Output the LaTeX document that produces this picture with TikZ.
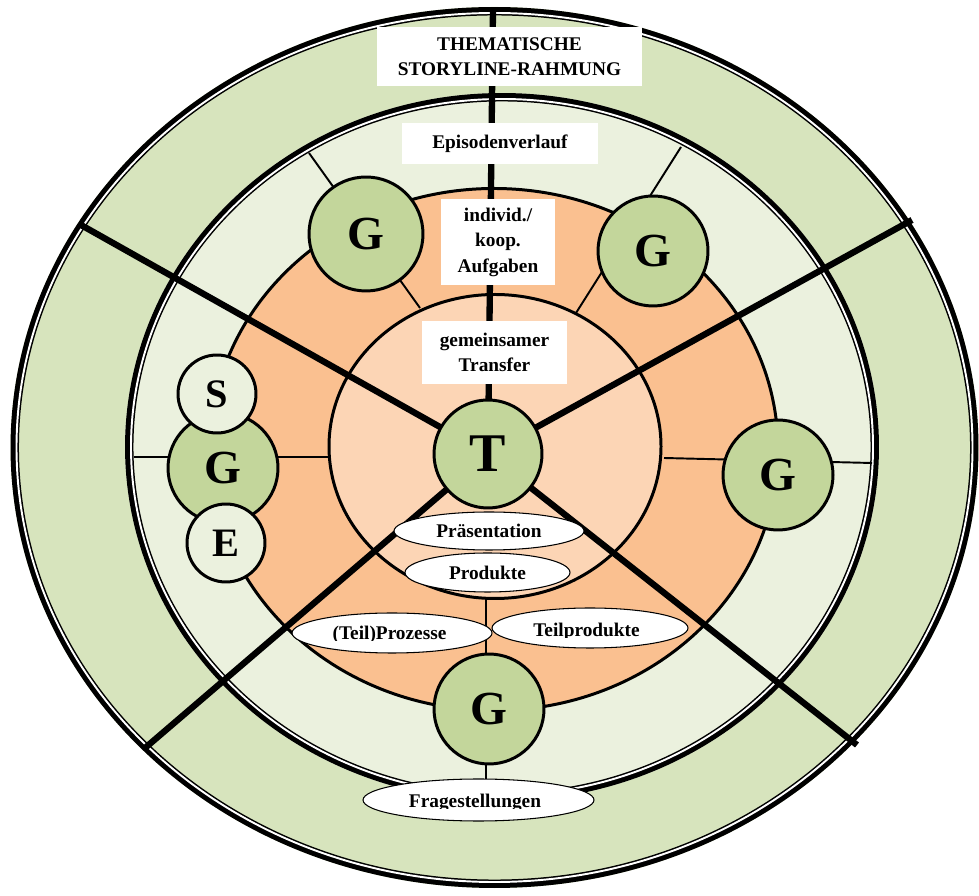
\documentclass[tikz,border=0pt]{standalone}
\usepackage{fontspec}
\setmainfont{Liberation Serif}
\usetikzlibrary{shapes.geometric}

\definecolor{ringouter}{HTML}{D7E4BD}
\definecolor{ringlight}{HTML}{EBF1DE}
\definecolor{ringorange}{HTML}{FAC090}
\definecolor{ringpeach}{HTML}{FCD5B5}
\definecolor{groupfill}{HTML}{C3D69B}

\def\ringedge(#1)(#2:#3){\draw[line width=4.8pt] (#1) ellipse [x radius=#2-4.25, y radius=#3-4.25];
	\draw[white, line width=1.1pt] (#1) ellipse [x radius=#2-6, y radius=#3-6];}

\tikzset{
	ringline/.style={line width=1.7pt},
	spoke/.style={line width=3.6pt},
	divider/.style={line width=1.1pt},
	labelbox/.style={rectangle, fill=white, inner sep=0pt, align=center, font=\fontsize{11}{14.5}\selectfont\bfseries},
	labeloval/.style={ellipse, draw, line width=0.6pt, fill=white, inner sep=0pt, font=\fontsize{11}{14.5}\selectfont\bfseries},
	ovaltext/.style={anchor=base, inner sep=0pt, font=\fontsize{11}{14.5}\selectfont\bfseries},
	groupnode/.style={circle, draw, line width=1.7pt, fill=groupfill, inner sep=0pt, minimum size=2.2cm, font=\fontsize{27}{27}\selectfont\bfseries},
	teachernode/.style={groupnode, minimum size=2.16cm, font=\fontsize{31}{31}\selectfont\bfseries},
	rolenode/.style={groupnode, fill=ringlight, minimum size=1.56cm, font=\fontsize{23}{23}\selectfont\bfseries},
}

\begin{document}
\begin{tikzpicture}[x=0.02cm, y=0.02cm]
	%%%%% START %%%%%
	\useasboundingbox (0,0) rectangle (979,895);
	
	\fill[ringouter] (494.5,447.5) ellipse [x radius=484, y radius=440.5];
	\ringedge(494.5,447.5)(484:440.5)
	\fill[ringlight] (502,448) ellipse [x radius=377, y radius=354];
	\ringedge(502,448)(377:354)
	\draw[ringline, fill=ringorange] (494,445.5) ellipse [x radius=284, y radius=261];
	\draw[ringline, fill=ringpeach] (495,448.5) ellipse [x radius=166, y radius=152];
	
	\coordinate (dv-ul-out) at (309,742);
	\coordinate (dv-ul-in) at (420,587);
	\coordinate (dv-ur-out) at (681,748);
	\coordinate (dv-ur-in) at (576,582);
	\coordinate (dv-r-in) at (664,437);
	\coordinate (dv-r-out) at (872,432);
	\coordinate (dv-l-out) at (134,438);
	\coordinate (dv-l-in) at (328,438);
	\coordinate (dv-b-in) at (486,296);
	\coordinate (dv-b-out) at (486,100);
	\draw[divider] (dv-ul-out) -- (dv-ul-in);
	\draw[divider] (dv-ur-out) -- (dv-ur-in);
	\draw[divider] (dv-r-in) -- (dv-r-out);
	\draw[divider] (dv-l-out) -- (dv-l-in);
	\draw[divider] (dv-b-in) -- (dv-b-out);
	
	\coordinate (hub) at (488,441);
	\coordinate (sp-top) at (493,887);
	\coordinate (sp-ul) at (81,670);
	\coordinate (sp-ur) at (912,675);
	\coordinate (sp-ll) at (145,147);
	\coordinate (sp-lr) at (857,150);
	\draw[spoke] (hub) -- (sp-top);
	\draw[spoke] (hub) -- (sp-ul);
	\draw[spoke] (hub) -- (sp-ur);
	\draw[spoke] (hub) -- (sp-ll);
	\draw[spoke] (hub) -- (sp-lr);
	
	\node[labelbox, minimum width=5.3cm, minimum height=1.18cm] (frame) at (509.5,838.5) {THEMATISCHE\\STORYLINE-RAHMUNG};
	\node[labelbox, minimum width=3.92cm, minimum height=0.82cm] (episode) at (500,751.5) {Episodenverlauf};
	\node[labelbox, minimum width=2.28cm, minimum height=1.72cm] (tasks) at (498,653) {individ./\\koop.\\Aufgaben};
	\node[labelbox, minimum width=2.9cm, minimum height=1.26cm] (transfer) at (494.5,542.5) {gemeinsamer\\Transfer};
	
	\node[teachernode] (t) at (hub) {T};
	\node[groupnode, minimum size=2.28cm] (gul) at (366,661) {G};
	\node[groupnode] (gur) at (653,644) {G};
	\node[groupnode] (gr) at (778,420) {G};
	\node[groupnode] (gb) at (489,186) {G};
	\node[groupnode] (gl) at (223,427) {G};
	\node[rolenode] (s) at (217,501) {S};
	\node[rolenode] (e) at (226,352) {E};
	
	\node[labeloval, minimum width=3.8cm, minimum height=0.76cm] (praes) at (489,364) {Präsentation};
	\node[labeloval, minimum width=3.3cm, minimum height=0.78cm] (prod) at (487.5,322.5) {Produkte};
	
	\node[labeloval, minimum width=4cm, minimum height=0.8cm] (prozesse) at (392,262) {};
	\begin{scope}
		\clip (280,254) rectangle (500,290);
		\node[ovaltext] at (389.5,255) {(Teil)Prozesse};
	\end{scope}
	\node[labeloval, minimum width=3.92cm, minimum height=0.8cm] (teilprod) at (590,267) {};
	\begin{scope}
		\clip (480,257) rectangle (700,295);
		\node[ovaltext] at (586.5,258) {Teilprodukte};
	\end{scope}
	\node[labeloval, minimum width=4.62cm, minimum height=0.84cm] (frage) at (478.5,95) {};
	\begin{scope}
		\clip (350,87) rectangle (600,125);
		\node[ovaltext] at (475,88) {Fragestellungen};
	\end{scope}
	
	%%%%% END %%%%%
\end{tikzpicture}
\end{document}
